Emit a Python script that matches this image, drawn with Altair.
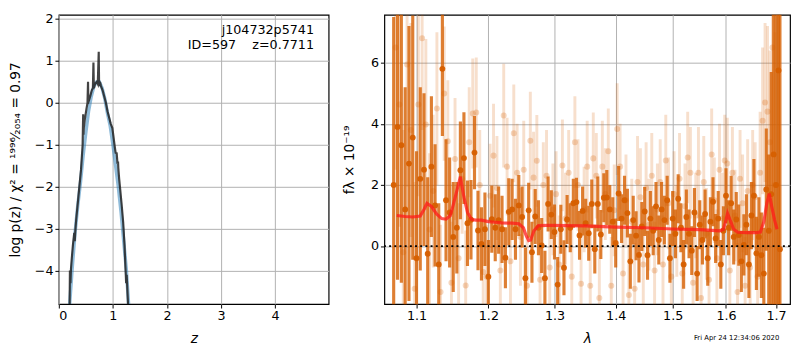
import altair as alt
import pandas as pd

# ---------------- left panel: p(z) ----------------
pz_z = [0.200, 0.205, 0.215, 0.225, 0.240, 0.260, 0.285, 0.295, 0.305, 0.320, 0.350, 0.380,
        0.410, 0.440, 0.450, 0.455, 0.462, 0.480, 0.510, 0.530, 0.540, 0.545, 0.555, 0.580,
        0.610, 0.630, 0.640, 0.648, 0.670, 0.700, 0.720, 0.738, 0.745, 0.760, 0.780, 0.810,
        0.840, 0.870, 0.900, 0.930, 0.960, 0.990, 1.010, 1.030, 1.050, 1.070, 1.085, 1.095,
        1.100, 1.115, 1.130, 1.160, 1.190, 1.215, 1.235, 1.245, 1.255, 1.280]
pz_logp = [-4.80, -4.00, -4.30, -3.95, -3.70, -3.40, -3.10, -3.30, -3.05, -2.80, -2.40, -2.00,
           -1.60, -1.00, -0.27, -0.76, -0.60, -0.40, -0.15, 0.00, 0.50, 0.10, 0.05, 0.15,
           0.30, 0.35, 0.96, 0.35, 0.45, 0.50, 0.45, 1.22, 0.40, 0.50, 0.40, 0.30,
           0.15, 0.00, -0.20, -0.35, -0.50, -0.60, -0.80, -1.00, -1.19, -1.20, -1.45, -1.40,
           -1.55, -1.80, -2.00, -2.40, -2.85, -3.40, -4.00, -4.30, -4.10, -4.80]

smooth_z = [0.20, 0.25, 0.30, 0.35, 0.40, 0.45, 0.50, 0.55, 0.60, 0.65, 0.70, 0.75, 0.80,
            0.85, 0.90, 0.95, 1.00, 1.05, 1.10, 1.15, 1.20, 1.25, 1.29]
smooth_logp = [-4.8, -3.9, -3.1, -2.45, -1.9, -1.25, -0.7, -0.2, 0.15, 0.4, 0.5, 0.5, 0.35,
               0.1, -0.25, -0.55, -1.0, -1.5, -2.0, -2.6, -3.3, -4.0, -4.8]

# ---------------- right panel: spectrum ----------------
lam_dark = [1.070, 1.075, 1.080, 1.085, 1.090, 1.095, 1.100, 1.105, 1.110, 1.115,
            1.120, 1.125, 1.130, 1.135, 1.140, 1.145, 1.150, 1.155, 1.160, 1.165,
            1.170, 1.175, 1.180, 1.185, 1.190, 1.195, 1.200, 1.205, 1.210, 1.215,
            1.220, 1.225, 1.230, 1.235, 1.240, 1.245, 1.250, 1.255, 1.260, 1.265,
            1.270, 1.275, 1.280, 1.285, 1.290, 1.295, 1.300, 1.305, 1.310, 1.315,
            1.320, 1.325, 1.330, 1.335, 1.340, 1.345, 1.350, 1.355, 1.360, 1.365,
            1.370, 1.375, 1.380, 1.385, 1.390, 1.395, 1.400, 1.405, 1.410, 1.415,
            1.420, 1.425, 1.430, 1.435, 1.440, 1.445, 1.450, 1.455, 1.460, 1.465,
            1.470, 1.475, 1.480, 1.485, 1.490, 1.495, 1.500, 1.505, 1.510, 1.515,
            1.520, 1.525, 1.530, 1.535, 1.540, 1.545, 1.550, 1.555, 1.560, 1.565,
            1.570, 1.575, 1.580, 1.585, 1.590, 1.595, 1.600, 1.605, 1.610, 1.615,
            1.620, 1.625, 1.630, 1.635, 1.640, 1.645, 1.650, 1.655, 1.660, 1.665,
            1.670, 1.675, 1.680, 1.685, 1.690, 1.695, 1.700, 1.705, 1.708]
flux_dark = [2.0, 3.9, 3.3, 1.2, 2.7, 3.55, -0.4,
             2.2, 2.5, -0.25, 2.6, 1.33, -0.6, 5.8, 1.5, 1.1,
             0.3, 0.6, 2.48, 2.88, 0.75, 0.86, 3.06, 0.51, 0.07, 0.55,
             -1.0, 0.88, 0.6, 0.85, 0.55, -0.38, 1.12, 1.2, 0.55, 1.33,
             0.95, -1.05, 1.17, -0.2, 0.97, 0.6, 0.02, -1.05, 1.38, 1.03,
             0.46, -1.26, 0.55, -0.71, 0.87, 0.6, 1.4, 1.44, 0.35, 1.15,
             0.75, 0.42, 1.38, -0.1, 1.38, 0.38, 1.58, 1.59, 1.2, 0.8,
             0.1, 1.72, 0.9, 1.5, 1.08, -0.5, 0.85, 0.34, -0.29, 0.64, 1.13, -0.3,
             0.9, 0.5, 1.3, 0.2, 1.2, 0.85, 1.5, -0.4, 0.9, 0.4, 1.55, 0.6,
             -0.6, 0.95, 0.4, -0.15, 1.1, -0.9, 0.7, 0.2, 1.05, -0.4, 0.8, 1.45, 0.25, 0.9, -0.6, 0.5,
             1.65, 0.6, 1.4, 0.3, 0.87, 0.36, -0.5, 0.04, 0.7, -0.6, 1.0, 1.65, -0.24, 0.3, -0.3,
             -0.9, 1.85, 0.5, 1.7, 3.0, 2.0, 5.75,
             -0.1]
err_dark = [5.5, 5.0, 4.5, 4.0, 4.5, 4.0, 3.5,
            3.0, 2.5, 2.5, 2.3, 2.0, 2.0, 2.2, 2.0, 1.8,
            1.8, 1.5, 1.6, 1.5, 1.4, 1.3, 1.2, 1.3, 1.2, 1.2,
            1.2, 1.1, 1.1, 1.1, 1.1, 1.0, 1.1, 1.0, 1.0, 1.0,
            1.0, 1.0, 0.9, 1.0, 0.9, 0.9, 0.9, 0.9, 0.9, 0.8,
            0.9, 0.9, 0.8, 0.9, 0.8, 0.8, 0.8, 0.8, 0.8, 0.8,
            0.8, 0.9, 0.8, 0.8, 0.9, 0.8, 0.8, 0.9, 0.8, 0.8,
            0.8, 0.9, 0.8, 0.8, 0.8, 0.9, 0.8, 0.8, 0.9, 0.8, 0.8, 0.8,
            0.9, 0.8, 0.8, 0.8, 0.9, 0.8, 0.8, 0.8, 0.9, 0.8, 0.8, 0.8,
            0.8, 0.9, 0.8, 0.8, 0.8, 0.9, 0.8, 0.8, 0.8, 0.9, 0.8, 0.8, 0.8, 0.9, 0.8, 0.8,
            0.9, 0.9, 0.9, 0.9, 0.9, 1.0, 1.0, 1.0, 1.0, 1.1, 1.1, 1.2, 1.2, 1.3, 1.4,
            1.5, 2.0, 2.5, 4.0, 5.0, 7.0, 8.0,
            9.0]

lam_light = [1.0725, 1.0775, 1.0825, 1.0875, 1.0925, 1.0975, 1.1025, 1.1075, 1.1125, 1.1175,
             1.1225, 1.1275, 1.1325, 1.1375, 1.1425, 1.1475, 1.1525, 1.1575, 1.1625, 1.1675,
             1.1725, 1.1775, 1.1825, 1.1875, 1.1925, 1.1975, 1.2025, 1.2075, 1.2125, 1.2175,
             1.2225, 1.2275, 1.2325, 1.2375, 1.2425, 1.2475, 1.2525, 1.2575, 1.2625, 1.2675,
             1.2725, 1.2775, 1.2825, 1.2875, 1.2925, 1.2975, 1.3025, 1.3075, 1.3125, 1.3175,
             1.3225, 1.3275, 1.3325, 1.3375, 1.3425, 1.3475, 1.3525, 1.3575, 1.3625, 1.3675,
             1.3725, 1.3775, 1.3825, 1.3875, 1.3925, 1.3975, 1.4025, 1.4075, 1.4125, 1.4175,
             1.4225, 1.4275, 1.4325, 1.4375, 1.4425, 1.4475, 1.4525, 1.4575, 1.4625, 1.4675,
             1.4725, 1.4775, 1.4825, 1.4875, 1.4925, 1.4975, 1.5025, 1.5075, 1.5125, 1.5175,
             1.5225, 1.5275, 1.5325, 1.5375, 1.5425, 1.5475, 1.5525, 1.5575, 1.5625, 1.5675,
             1.5725, 1.5775, 1.5825, 1.5875, 1.5925, 1.5975, 1.6025, 1.6075, 1.6125, 1.6175,
             1.6225, 1.6275, 1.6325, 1.6375, 1.6425, 1.6475, 1.6525, 1.6575, 1.6625, 1.6675,
             1.6725, 1.6775, 1.6825, 1.6875, 1.6925, 1.6975]
flux_light = [6.5, 4.63, -0.2, 5.94, 3.8, -1.4, 4.63, 6.8, 3.98, 0.54,
              1.8, 4.5, -1.5, 4.99, 3.43, -1.2, 2.85, -0.4, 2.2, -1.29,
              3.4, 4.34, 4.37, 2.0, -0.85, -1.0, 1.65, 2.96, 1.9, -0.8,
              4.27, 2.6, -0.5, 3.69, 2.4, 0.3, 2.5, -1.3, 3.45, 2.24,
              2.79, -1.1, 2.0, 2.3, -0.7, 1.2, 1.7, -0.6, 2.64, 0.9,
              2.4, -1.0, 3.4, 2.0, -1.23, 1.2, 2.6, -1.3, 2.87, 2.3,
              -1.7, 2.6, 1.7, 3.1, -1.3, 1.17, 3.83, 2.6, -0.9, 1.5,
              -1.6, 0.8, -1.4, 2.1, 1.6, -0.6, 1.9, 0.7, 2.3, -0.8,
              1.2, 2.1, -0.6, 2.8, 1.4, -1.0, 1.7, 0.5, 2.2, -0.9,
              1.3, 2.9, 2.4, -1.2, 1.0, 2.4, -1.7, 2.1, 0.4, -1.1,
              3.0, 1.5, -0.4, 2.5, 0.9, 2.8, 2.7, -0.8, 2.4, 1.0,
              -1.5, 2.2, 1.4, -1.3, 1.8, -0.7, 2.0, 1.6, -1.0, 2.4,
              4.1, 4.7, 4.4, 3.4, 6.5, 2.0]
err_light = [4.0, 4.0, 4.0, 4.0, 3.5, 3.5, 3.0, 3.0, 2.8, 2.5,
             2.5, 2.5, 2.2, 2.2, 2.0, 2.0, 2.0, 1.8, 1.8, 1.8,
             1.8, 1.8, 1.8, 1.8, 1.7, 1.7, 1.7, 1.7, 1.7, 1.6,
             1.7, 1.6, 1.6, 1.6, 1.6, 1.6, 1.6, 1.6, 1.6, 1.5,
             1.5, 1.6, 1.4, 1.5, 1.7, 1.5, 1.4, 1.6, 1.5, 1.5,
             1.4, 1.6, 1.5, 1.5, 1.6, 1.4, 1.5, 1.7, 1.5, 1.4,
             1.6, 1.5, 1.5, 1.4, 1.6, 1.5, 1.5, 1.4, 1.6, 1.5,
             1.6, 1.4, 1.5, 1.5, 1.6, 1.4, 1.5, 1.5, 1.4, 1.6,
             1.5, 1.4, 1.6, 1.5, 1.5, 1.6, 1.4, 1.5, 1.5, 1.6,
             1.4, 1.5, 1.5, 1.6, 1.4, 1.5, 1.6, 1.5, 1.5, 1.6,
             1.5, 1.4, 1.6, 1.5, 1.5, 1.5, 1.5, 1.6, 1.5, 1.5,
             1.6, 1.6, 1.6, 1.6, 1.7, 1.7, 1.8, 1.8, 1.9, 2.0,
             2.4, 2.6, 2.8, 3.0, 3.5, 5.0]

lam_model = [1.074, 1.085, 1.095, 1.105, 1.110, 1.114, 1.120, 1.127, 1.134, 1.140, 1.146,
             1.150, 1.156, 1.160, 1.165, 1.170, 1.176, 1.182, 1.190, 1.200, 1.210, 1.220,
             1.235, 1.245, 1.252, 1.256, 1.260, 1.263, 1.268, 1.275, 1.290, 1.320, 1.350,
             1.400, 1.450, 1.500, 1.550, 1.588, 1.595, 1.600, 1.603, 1.608, 1.615, 1.623,
             1.640, 1.660, 1.668, 1.675, 1.681, 1.686, 1.691, 1.697, 1.702]
flux_model = [1.0, 0.97, 0.95, 0.98, 1.2, 1.4, 1.3, 1.05, 0.9, 0.88, 1.0,
              1.35, 1.9, 2.27, 1.6, 1.1, 0.87, 0.85, 0.85, 0.8, 0.78, 0.76,
              0.75, 0.73, 0.6, 0.35, 0.18, 0.2, 0.5, 0.67, 0.68, 0.67, 0.66,
              0.62, 0.6, 0.56, 0.54, 0.5, 0.55, 0.85, 1.07, 0.85, 0.55, 0.45,
              0.44, 0.44, 0.46, 0.8, 1.4, 1.72, 1.3, 0.85, 0.55]

title_left_y = "log p(z) / χ² = ¹⁹⁹⁶⁄₂₀₅₄ = 0.97"
title_right_y = "fλ × 10⁻¹⁹"
label_obj = "j104732p5741"
label_id = "ID=597\u00a0\u00a0\u00a0\u00a0z=0.7711"
timestamp = "Fri Apr 24 12:34:06 2020"

FONT = "DejaVu Sans"
ORANGE = "#d65f00"

# ---------------- tables ----------------
df_pz = pd.DataFrame({"z": pz_z, "logp": pz_logp})
df_smooth = pd.DataFrame({"z": smooth_z, "logp": smooth_logp})
df_dark = pd.DataFrame({"lam": lam_dark, "f": flux_dark, "e": err_dark})
df_dark["lo"] = df_dark["f"] - df_dark["e"]
df_dark["hi"] = df_dark["f"] + df_dark["e"]
df_light = pd.DataFrame({"lam": lam_light, "f": flux_light, "e": err_light})
df_light["lo"] = df_light["f"] - df_light["e"]
df_light["hi"] = df_light["f"] + df_light["e"]
df_model = pd.DataFrame({"lam": lam_model, "f": flux_model})

W_L, W_R, H = 276, 415, 296

# ---------------- left ----------------
xz = alt.X("z:Q", scale=alt.Scale(domain=[0, 4.99], nice=False),
           axis=alt.Axis(values=[0, 1, 2, 3, 4], format="d", title="z",
                         titleFontStyle="italic", titlePadding=9))
yz = alt.Y("logp:Q", scale=alt.Scale(domain=[-4.8, 2.1], nice=False, zero=False),
           axis=alt.Axis(values=[-4, -3, -2, -1, 0, 1, 2], format="d",
                         title=title_left_y, titlePadding=12))

smooth_line = alt.Chart(df_smooth).mark_line(
    color="#1f77b4", opacity=0.5, strokeWidth=3.5, clip=True
).encode(x=xz, y=yz)
pz_line = alt.Chart(df_pz).mark_line(
    color="#222222", opacity=0.85, strokeWidth=2.2, clip=True
).encode(x=xz, y=yz)
t1 = alt.Chart(pd.DataFrame({"t": [label_obj]})).mark_text(
    align="right", baseline="middle", fontSize=13, font=FONT, color="black", x=261, y=16
).encode(text="t:N")
t2 = alt.Chart(pd.DataFrame({"t": [label_id]})).mark_text(
    align="right", baseline="middle", fontSize=13, font=FONT, color="black", x=261, y=31
).encode(text="t:N")

left = alt.layer(smooth_line, pz_line, t1, t2).properties(width=W_L, height=H)

# ---------------- right ----------------
xl = alt.X("lam:Q", scale=alt.Scale(type="log", domain=[1.058, 1.729], nice=False),
           axis=alt.Axis(values=[1.1, 1.2, 1.3, 1.4, 1.5, 1.6, 1.7], format=".1f",
                         title="λ", titleFontStyle="italic", titlePadding=9))
ys = alt.Scale(domain=[-1.9, 7.57], nice=False, zero=False)
yax = alt.Axis(values=[0, 2, 4, 6], format="d", title=title_right_y, titlePadding=14)

light_bars = alt.Chart(df_light).mark_rule(
    color=ORANGE, opacity=0.2, strokeWidth=3, clip=True
).encode(x=xl, y=alt.Y("lo:Q", scale=ys, axis=yax), y2="hi:Q")
light_pts = alt.Chart(df_light).mark_circle(
    color=ORANGE, opacity=0.25, size=38, clip=True
).encode(x=xl, y=alt.Y("f:Q", scale=ys, axis=yax))
dark_bars = alt.Chart(df_dark).mark_rule(
    color=ORANGE, opacity=0.8, strokeWidth=3.2, clip=True
).encode(x=xl, y=alt.Y("lo:Q", scale=ys, axis=yax), y2="hi:Q")
dark_pts = alt.Chart(df_dark).mark_circle(
    color=ORANGE, opacity=0.95, size=36, clip=True
).encode(x=xl, y=alt.Y("f:Q", scale=ys, axis=yax))
model = alt.Chart(df_model).mark_line(
    color="#ff1a1a", opacity=0.75, strokeWidth=3.2, clip=True
).encode(x=xl, y=alt.Y("f:Q", scale=ys, axis=yax))
zero = alt.Chart(pd.DataFrame({"v": [0]})).mark_rule(
    color="black", strokeWidth=1.8, strokeDash=[2, 3.3]
).encode(y=alt.Y("v:Q", scale=ys, axis=yax))
stamp = alt.Chart(pd.DataFrame({"t": [timestamp]})).mark_text(
    align="right", baseline="middle", fontSize=7, font=FONT, color="black", x=404, y=331
).encode(text="t:N")

right = alt.layer(light_bars, light_pts, dark_bars, dark_pts, model, zero, stamp).properties(
    width=W_R, height=H)

chart = alt.hconcat(left, right, spacing=13).properties(
    padding={"left": 0, "top": 0, "right": 0, "bottom": 0}
).configure_view(
    stroke="black", strokeWidth=1.2
).configure_axis(
    labelFont=FONT, titleFont=FONT, labelFontSize=13, titleFontSize=14,
    labelColor="black", titleColor="black", titleFontWeight="normal",
    domain=False, tickColor="black", tickSize=4, tickWidth=1, labelPadding=2,
    gridColor="#b0b0b0", gridOpacity=1, gridWidth=1
)

chart.save("out.html", embed_options={"renderer": "svg", "actions": False})
